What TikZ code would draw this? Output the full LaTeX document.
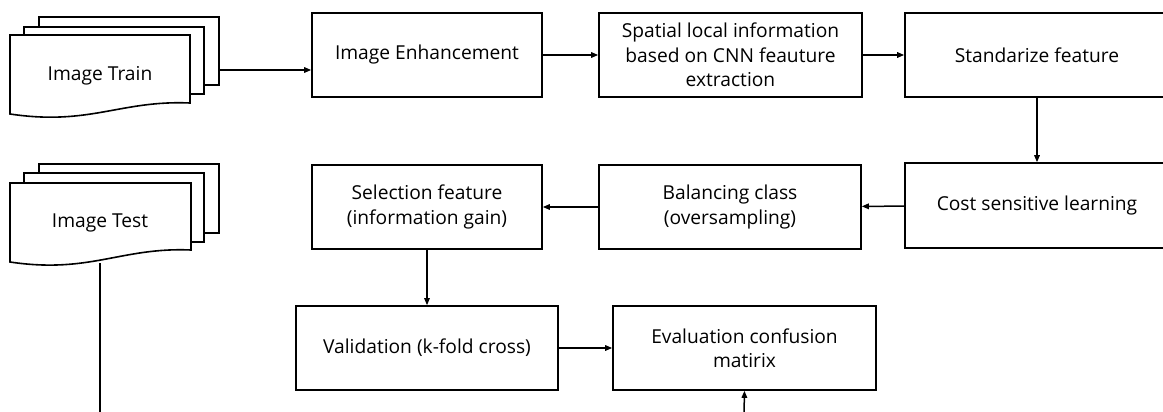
\documentclass[tikz,border=0pt]{standalone}
\usepackage{fontspec}
\setmainfont{Open Sans}
\usetikzlibrary{arrows.meta}
\tikzset{
  box/.style={draw=black, line width=1.6pt, fill=white, inner sep=0pt, align=center,
    font=\fontsize{19.2}{24.5}\selectfont},
  doc/.style={draw=black, line width=1.6pt, fill=white},
  conn/.style={line width=1.5pt, -{Triangle[length=7pt,width=5.5pt]}},
  line/.style={line width=1.5pt},
  lbl/.style={font=\fontsize{19.2}{24.5}\selectfont, inner sep=0pt}
}
\begin{document}
\begin{tikzpicture}[x=1pt,y=-1pt]
\useasboundingbox (0,0) rectangle (1163,412);
\clip (0,0) rectangle (1163,412);
\fill[white] (0,0) rectangle (1163,412);
% Image Train stack
\draw[doc] (39,17) rectangle (219,85);
\draw[doc] (24,27) rectangle (204,94);
\draw[doc] (10,35) -- (190,35) -- (190,103) .. controls (120,100) and (90,126) .. (10,114) -- cycle;
\node[lbl] (train) at (100,76) {Image Train};
\coordinate (trainout) at (219,70);
% Image Test stack
\draw[doc] (39,164) rectangle (219,233);
\draw[doc] (24,173) rectangle (204,242);
\draw[doc] (10,183) -- (191,183) -- (191,250) .. controls (121,247) and (90,274) .. (10,262) -- cycle;
\node[lbl] (test) at (100,223) {Image Test};
\coordinate (testout) at (100,263);
\coordinate (testend) at (100,414);
\coordinate (evalin) at (744,414);
% process boxes
\node[box, minimum width=230, minimum height=84] (enh) at (427,55) {Image Enhancement};
\node[box, minimum width=263, minimum height=84] (spat) at (730.5,55) {Spatial local information\\based on CNN feauture\\extraction};
\node[box, minimum width=264, minimum height=84] (std) at (1037,55) {Standarize feature};
\node[box, minimum width=264, minimum height=85] (cost) at (1037,205.5) {Cost sensitive learning};
\node[box, minimum width=262, minimum height=84] (bal) at (730,207) {Balancing class\\(oversampling)};
\node[box, minimum width=230, minimum height=84] (sel) at (427,207) {Selection feature\\(information gain)};
\node[box, minimum width=262, minimum height=84] (val) at (427,348) {Validation (k-fold cross)};
\node[box, minimum width=263, minimum height=84] (eval) at (744.5,348) {Evaluation confusion\\matirix};
% connectors
\draw[conn] (trainout) -- (enh.west |- trainout);
\draw[conn] (enh) -- (spat);
\draw[conn] (spat) -- (std);
\draw[conn] (std) -- (cost);
\draw[conn] (cost) -- (bal);
\draw[conn] (bal) -- (sel);
\draw[conn, line width=1.2pt] (sel) -- (val);
\draw[conn] (val) -- (eval);
\draw[line] (testout) -- (testend);
\draw[conn] (evalin) -- (eval.south);
\end{tikzpicture}
\end{document}
